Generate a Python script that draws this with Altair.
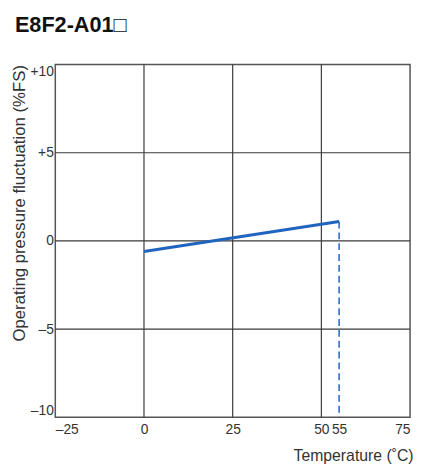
import altair as alt
import pandas as pd

# data
temps = [0, 55]
fluct = [-0.6, 1.1]
limit_temp = [55]
limit_top = [1.1]
limit_bottom = [-10]
x_ticks = [-25, 0, 25, 50, 55, 75]
y_ticks = [-10, -5, 0, 5, 10]
x_grid = [0, 25, 50]
y_grid = [-5, 0, 5]

FONT = "Liberation Sans"
BLUE = "#1f64be"
GRID = "#3a3a3a"

line_df = pd.DataFrame({"t": temps, "f": fluct})
limit_df = pd.DataFrame({"t": limit_temp, "f": limit_top, "f2": limit_bottom})
xg_df = pd.DataFrame({"t": x_grid})
yg_df = pd.DataFrame({"f": y_grid})

xscale = alt.Scale(domain=[-25, 75], nice=False, zero=False)
yscale = alt.Scale(domain=[-10, 10], nice=False, zero=False)

xaxis = alt.Axis(
    values=x_ticks,
    grid=False,
    ticks=False,
    domain=False,
    labelFlush=True,
    labelPadding=5,
    labelFontSize=14,
    labelFont=FONT,
    labelColor="#333",
    labelExpr="datum.value < 0 ? '–' + abs(datum.value) : datum.label",
    title="Temperature (˚C)",
    titleAnchor="end",
    titleAlign="right",
    titleX=363,
    titleFont=FONT,
    titleFontSize=16,
    titleFontWeight="normal",
    titleColor="#333",
    titlePadding=12,
)
yaxis = alt.Axis(
    values=y_ticks,
    grid=False,
    ticks=False,
    domain=False,
    labelFlush=True,
    labelPadding=2,
    labelFontSize=14,
    labelFont=FONT,
    labelColor="#333",
    labelExpr="datum.value > 0 ? '+' + datum.value : (datum.value < 0 ? '–' + abs(datum.value) : '0')",
    title="Operating pressure fluctuation (%FS)",
    titleAnchor="end",
    titleFont=FONT,
    titleFontSize=17,
    titleFontWeight="normal",
    titleColor="#333",
    titlePadding=2,
)

vgrid = alt.Chart(xg_df).mark_rule(color=GRID, strokeWidth=1.2).encode(
    x=alt.X("t:Q", scale=xscale, axis=xaxis)
)
hgrid = alt.Chart(yg_df).mark_rule(color=GRID, strokeWidth=1.2).encode(
    y=alt.Y("f:Q", scale=yscale, axis=yaxis)
)
line = alt.Chart(line_df).mark_line(color=BLUE, strokeWidth=3).encode(
    x=alt.X("t:Q", scale=xscale),
    y=alt.Y("f:Q", scale=yscale),
)
limit = alt.Chart(limit_df).mark_rule(color=BLUE, strokeWidth=1.5, strokeDash=[7, 4]).encode(
    x=alt.X("t:Q", scale=xscale),
    y=alt.Y("f:Q", scale=yscale),
    y2="f2:Q",
)

chart = (
    alt.layer(vgrid, hgrid, line, limit)
    .properties(
        width=360,
        height=358,
        autosize=alt.AutoSizeParams(type="none"),
        padding={"left": 48, "top": 54, "right": 4, "bottom": 46},
        title=alt.TitleParams(
            text="E8F2-A01□",
            anchor="start",
            frame="group",
            dx=-41,
            offset=27,
            fontSize=22,
            fontWeight="bold",
            font=FONT,
            color="#111",
        ),
    )
    .configure_view(stroke="#555", strokeWidth=1.5)
)

chart.save("out.html", embed_options={"renderer": "svg", "actions": False})
